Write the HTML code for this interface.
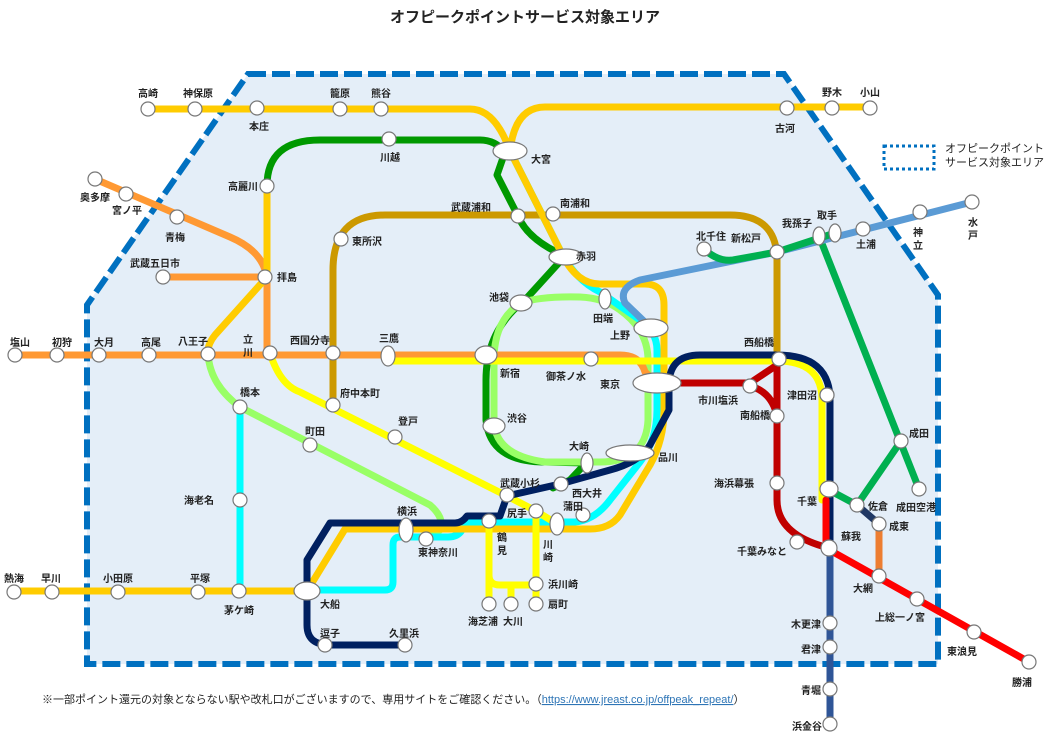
<!DOCTYPE html>
<html><head><meta charset="utf-8"><style>
html,body{margin:0;padding:0;background:#fff}
svg{display:block}
text{font-family:"Liberation Sans","Noto Sans CJK JP",sans-serif;font-size:10px;font-weight:bold;fill:#222}
.l{fill:none;stroke-width:7;stroke-linecap:round;stroke-linejoin:round}
.s{fill:#fff;stroke:#777;stroke-width:1.2}
</style></head><body>
<svg width="1051" height="733" viewBox="0 0 1051 733" xmlns="http://www.w3.org/2000/svg">
<text x="525" y="22" text-anchor="middle" style="font-size:15px">オフピークポイントサービス対象エリア</text>
<polygon points="248,74 784,74 938,295 938,664 87,664 87,305" fill="#e4eef8" stroke="#0070c0" stroke-width="6" stroke-dasharray="18,6"/>
<rect x="884" y="146" width="50" height="23" fill="none" stroke="#0070c0" stroke-width="3" stroke-dasharray="3,3"/>
<text x="945" y="152" style="font-weight:normal;font-size:11px">オフピークポイント</text>
<text x="945" y="166" style="font-weight:normal;font-size:11px">サービス対象エリア</text>

<!-- lines -->
<path class="l" stroke="#ff9933" d="M95,179 L230,237 Q265,252 267,280 V353"/>
<path class="l" stroke="#ff9933" d="M163,277 H265"/>
<path class="l" stroke="#cc9900" d="M333,405 V270 Q333,215 385,215 H730 Q777,215 777,260 V359"/>
<path class="l" stroke="#99ff66" d="M208,354 Q210,385 240,407 L430,505 Q445,518 440,530 L426,539"/>
<path class="l" stroke="#00ffff" d="M240,407 V591"/>
<path class="l" stroke="#009900" d="M505,152 Q495,140 480,140 H320 Q267,140 267,186"/>
<path class="l" stroke="#009900" d="M505,152 L497,175 L518,216 Q528,240 565,256 L525,300 Q486,330 486,380 V420 Q490,462 545,462 L586,463 L570,480 L553,488"/>
<path class="l" stroke="#99ff66" d="M521,303 Q540,296 580,297 Q604,298 620,310 Q648,330 648,360 V420 Q646,462 600,462 H545 Q494,455 494,420 V360 Q494,320 521,303 Z"/>
<path class="l" stroke="#00ffff" d="M510,151 L560,250 Q575,280 600,292 L640,320 Q657,332 657,350 V410 Q657,440 640,462 L610,500 Q595,520 575,522 H475 Q467,522 462,530 Q458,537 448,537 H400 Q393,537 393,545 V582 Q393,590 385,590 H307"/>
<path class="l" stroke="#ffcc00" d="M148,109 H470 Q495,109 510,151 Q515,107 545,107 H870"/>
<path class="l" stroke="#ffcc00" d="M510,151 L560,250 Q575,284 600,284 H645 Q664,284 664,305 V410 Q664,440 650,465 L620,515 Q610,529 590,529 H345 L307,591 H14"/>
<path class="l" stroke="#ffcc00" d="M267,186 V277 L215,335 Q207,345 208,354"/>
<path class="l" stroke="#ff9933" d="M15,355 H620 Q640,355 645,372 L657,383"/>
<path class="l" stroke="#ffff00" d="M388,361 H777 Q822,361 822,400 V500"/>
<path class="l" stroke="#ffff00" d="M270,353 Q280,385 300,392 L507,496 L536,511 L557,524"/>
<path class="l" stroke="#ffff00" d="M489,521 V604 M489,575 Q489,585 500,585 H536 M511,585 V604 M536,511 V604"/>
<path class="l" stroke="#002060" d="M405,645 H330 Q307,645 307,625 V560 L330,523 H455 Q462,523 467,516 H500 L507,496 L560,484 L610,470 Q640,462 650,445 L669,410 V385 Q669,355 700,355 H777 Q830,355 830,400 V550"/>
<path class="l" stroke="#2f5597" d="M830,550 V724"/>
<path class="l" stroke="#c00000" d="M657,383 H750 L777,365 M750,386 Q772,392 777,416 M777,359 V500 Q777,535 829,548"/>
<path class="l" stroke="#ff0000" d="M826,500 V548 L1029,662"/>
<path class="l" stroke="#ed7d31" d="M879,524 V576"/>
<path class="l" stroke="#00b050" d="M819,236 L919,489 M829,490 L857,505 L901,441"/>
<path class="l" stroke="#203864" d="M857,505 L879,524"/>
<path class="l" stroke="#5b9bd5" d="M972,202 L777,252 L640,280 Q618,288 625,303 L651,328"/>
<path class="l" stroke="#00b050" d="M704,249 Q718,262 733,260 L777,252 L835,233"/>

<!-- stations -->
<g class="s">
<circle cx="148" cy="109" r="7"/><circle cx="195" cy="109" r="7"/><circle cx="257" cy="108" r="7"/><circle cx="340" cy="109" r="7"/><circle cx="381" cy="109" r="7"/>
<circle cx="787" cy="108" r="7"/><circle cx="832" cy="108" r="7"/><circle cx="870" cy="108" r="7"/>
<circle cx="389" cy="139" r="7"/><circle cx="267" cy="186" r="7"/>
<circle cx="95" cy="179" r="7"/><circle cx="126" cy="194" r="7"/><circle cx="177" cy="217" r="7"/>
<circle cx="163" cy="277" r="7"/><circle cx="265" cy="277" r="7"/>
<circle cx="341" cy="239" r="7"/><circle cx="518" cy="216" r="7"/><circle cx="553" cy="214" r="7"/>
<circle cx="15" cy="355" r="7"/><circle cx="57" cy="355" r="7"/><circle cx="99" cy="355" r="7"/><circle cx="149" cy="355" r="7"/><circle cx="208" cy="354" r="7"/><circle cx="270" cy="353" r="7"/><circle cx="333" cy="353" r="7"/>
<circle cx="591" cy="359" r="7"/><circle cx="779" cy="359" r="7"/><circle cx="750" cy="386" r="7"/><circle cx="777" cy="416" r="7"/><circle cx="827" cy="395" r="7"/>
<circle cx="777" cy="483" r="7"/><circle cx="797" cy="542" r="7"/><circle cx="829" cy="548" r="8"/>
<circle cx="857" cy="505" r="7"/><circle cx="879" cy="524" r="7"/><circle cx="879" cy="576" r="7"/><circle cx="917" cy="599" r="7"/><circle cx="974" cy="632" r="7"/><circle cx="1029" cy="662" r="7"/>
<circle cx="901" cy="441" r="7"/><circle cx="919" cy="489" r="7"/>
<circle cx="830" cy="623" r="7"/><circle cx="830" cy="647" r="7"/><circle cx="830" cy="689" r="7"/><circle cx="830" cy="724" r="7"/>
<circle cx="704" cy="249" r="7"/><circle cx="777" cy="252" r="7"/><circle cx="863" cy="229" r="7"/><circle cx="920" cy="212" r="7"/><circle cx="972" cy="202" r="7"/>
<circle cx="240" cy="407" r="7"/><circle cx="310" cy="445" r="7"/><circle cx="240" cy="500" r="7"/><circle cx="239" cy="591" r="7"/>
<circle cx="333" cy="405" r="7"/><circle cx="395" cy="437" r="7"/><circle cx="507" cy="495" r="7"/><circle cx="561" cy="484" r="7"/><circle cx="536" cy="511" r="7"/><circle cx="583" cy="515" r="7"/><circle cx="489" cy="521" r="7"/>
<circle cx="536" cy="584" r="7"/><circle cx="536" cy="604" r="7"/><circle cx="489" cy="604" r="7"/><circle cx="511" cy="604" r="7"/>
<circle cx="426" cy="539" r="7"/><circle cx="325" cy="645" r="7"/><circle cx="405" cy="645" r="7"/>
<circle cx="14" cy="592" r="7"/><circle cx="52" cy="592" r="7"/><circle cx="118" cy="592" r="7"/><circle cx="198" cy="592" r="7"/>
<ellipse cx="510" cy="151" rx="17" ry="9"/><ellipse cx="566" cy="257" rx="17" ry="8"/><ellipse cx="521" cy="303" rx="11" ry="8"/><ellipse cx="605" cy="299" rx="6" ry="10"/>
<ellipse cx="651" cy="328" rx="17" ry="9"/><ellipse cx="486" cy="355" rx="11" ry="9"/><ellipse cx="388" cy="356" rx="7" ry="10"/>
<ellipse cx="657" cy="383" rx="24" ry="10"/><ellipse cx="494" cy="426" rx="11" ry="8"/><ellipse cx="587" cy="463" rx="6" ry="10"/><ellipse cx="630" cy="453" rx="24" ry="8"/>
<ellipse cx="557" cy="524" rx="7" ry="11"/><ellipse cx="406" cy="530" rx="7" ry="12"/><ellipse cx="307" cy="591" rx="13" ry="9"/>
<ellipse cx="829" cy="489" rx="9" ry="8"/><ellipse cx="819" cy="236" rx="6" ry="9"/><ellipse cx="835" cy="233" rx="6" ry="9"/><circle cx="827" cy="395" r="7"/>
</g>

<!-- labels -->
<g>
<text x="138" y="97">高崎</text><text x="183" y="97">神保原</text><text x="249" y="130">本庄</text><text x="330" y="97">籠原</text><text x="371" y="97">熊谷</text>
<text x="822" y="96">野木</text><text x="860" y="96">小山</text><text x="775" y="132">古河</text>
<text x="380" y="161">川越</text><text x="531" y="163">大宮</text><text x="228" y="190">高麗川</text>
<text x="80" y="201">奥多摩</text><text x="112" y="214">宮ノ平</text><text x="165" y="241">青梅</text><text x="130" y="267">武蔵五日市</text><text x="277" y="281">拝島</text>
<text x="451" y="211">武蔵浦和</text><text x="560" y="207">南浦和</text><text x="352" y="245">東所沢</text><text x="576" y="260">赤羽</text><text x="489" y="301">池袋</text><text x="593" y="322">田端</text><text x="610" y="339">上野</text>
<text x="10" y="346">塩山</text><text x="52" y="346">初狩</text><text x="94" y="346">大月</text><text x="141" y="346">高尾</text><text x="178" y="345">八王子</text>
<text x="243" y="343">立</text><text x="243" y="356">川</text><text x="290" y="344">西国分寺</text><text x="379" y="342">三鷹</text><text x="500" y="377">新宿</text>
<text x="546" y="380">御茶ノ水</text><text x="600" y="388">東京</text><text x="744" y="346">西船橋</text><text x="698" y="404">市川塩浜</text><text x="787" y="399">津田沼</text><text x="740" y="419">南船橋</text>
<text x="714" y="487">海浜幕張</text><text x="797" y="505">千葉</text><text x="737" y="555">千葉みなと</text><text x="841" y="540">蘇我</text><text x="868" y="510">佐倉</text><text x="896" y="511">成田空港</text>
<text x="909" y="437">成田</text><text x="889" y="530">成東</text><text x="853" y="592">大網</text><text x="875" y="621">上総一ノ宮</text><text x="947" y="655">東浪見</text><text x="1012" y="686">勝浦</text>
<text x="791" y="628">木更津</text><text x="801" y="653">君津</text><text x="801" y="694">青堀</text><text x="792" y="730">浜金谷</text>
<text x="782" y="227">我孫子</text><text x="817" y="219">取手</text><text x="856" y="248">土浦</text><text x="913" y="236">神</text><text x="913" y="249">立</text><text x="968" y="226">水</text><text x="968" y="239">戸</text>
<text x="696" y="240">北千住</text><text x="731" y="242">新松戸</text>
<text x="240" y="396">橋本</text><text x="340" y="397">府中本町</text><text x="305" y="435">町田</text><text x="398" y="425">登戸</text><text x="184" y="504">海老名</text>
<text x="507" y="422">渋谷</text><text x="569" y="450">大崎</text><text x="658" y="461">品川</text><text x="500" y="487">武蔵小杉</text><text x="572" y="497">西大井</text><text x="563" y="510">蒲田</text><text x="507" y="517">尻手</text>
<text x="497" y="541">鶴</text><text x="497" y="554">見</text><text x="543" y="548">川</text><text x="543" y="561">崎</text><text x="548" y="588">浜川崎</text><text x="548" y="608">扇町</text><text x="468" y="625">海芝浦</text><text x="503" y="625">大川</text>
<text x="397" y="515">横浜</text><text x="418" y="556">東神奈川</text><text x="320" y="608">大船</text><text x="320" y="637">逗子</text><text x="389" y="637">久里浜</text>
<text x="4" y="582">熱海</text><text x="41" y="582">早川</text><text x="103" y="582">小田原</text><text x="190" y="582">平塚</text><text x="224" y="614">茅ケ崎</text>
</g>
<text x="42" y="703" style="font-weight:normal;font-size:11px">※一部ポイント還元の対象とならない駅や改札口がございますので、専用サイトをご確認ください。（<tspan fill="#2e75b6" text-decoration="underline">https://www.jreast.co.jp/offpeak_repeat/</tspan>）</text>
</svg>
</body></html>
